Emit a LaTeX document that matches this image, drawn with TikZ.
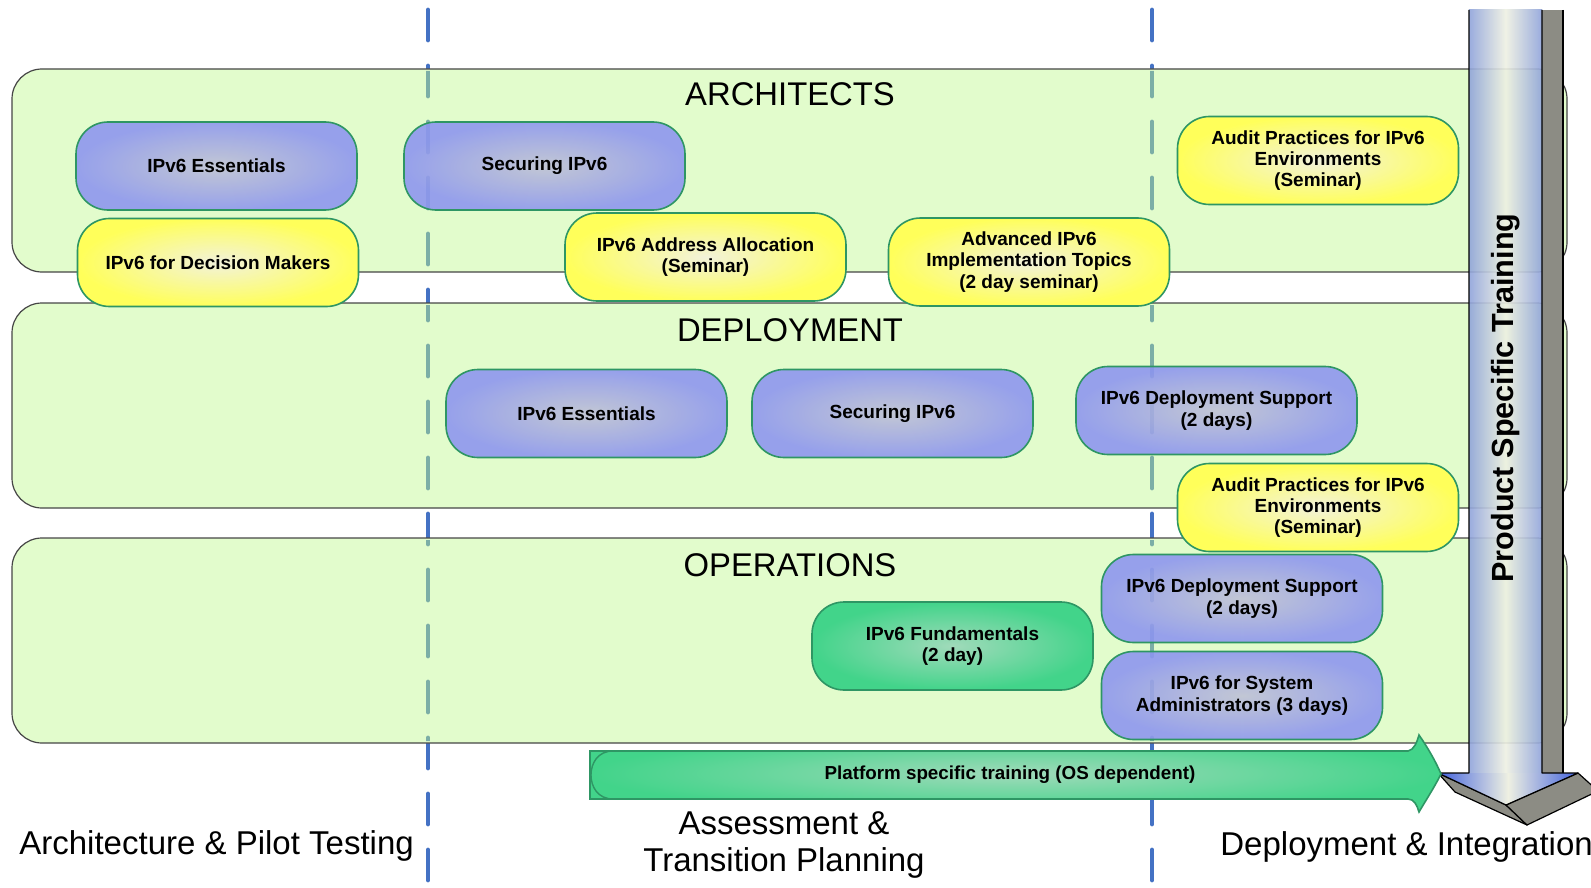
\documentclass[tikz,border=0pt]{standalone}
\usepackage{fontspec}
\setmainfont{Liberation Sans}
\definecolor{bandfill}{RGB}{226,252,204}
\definecolor{bandline}{RGB}{70,70,70}
\definecolor{dashblue}{RGB}{68,114,196}
\definecolor{dashteal}{RGB}{124,174,166}
\definecolor{nodeline}{RGB}{46,150,100}
\definecolor{blueOut}{RGB}{140,148,240}
\definecolor{blueIn}{RGB}{190,192,214}
\definecolor{yelOut}{RGB}{255,255,90}
\definecolor{yelIn}{RGB}{242,242,218}
\definecolor{grnOut}{RGB}{66,212,138}
\definecolor{grnIn}{RGB}{160,218,186}
\definecolor{shaftblue}{RGB}{143,163,218}
\definecolor{shaftcream}{RGB}{238,240,226}
\definecolor{headblue}{RGB}{66,98,222}
\definecolor{arrgray}{RGB}{140,140,132}
\tikzset{
  band/.style={fill=bandfill, draw=bandline, line width=0.6pt, rounded corners=15pt},
  lanedash/.style={line width=2.4pt, line cap=round, dash pattern=on 15pt off 13pt},
  course/.style={draw=nodeline, line width=0.8pt, rounded corners=16pt,
    minimum width=140.5pt, minimum height=44pt, inner sep=0pt, align=center,
    font=\fontsize{9.5}{10.7}\selectfont\bfseries},
  bluec/.style={course, inner color=blueIn, outer color=blueOut, fill opacity=0.88, text opacity=1},
  yelc/.style={course, inner color=yelIn, outer color=yelOut},
  grnc/.style={course, inner color=grnIn, outer color=grnOut},
  lanetitle/.style={font=\fontsize{16.4}{18}\selectfont},
  phase/.style={font=\fontsize{16.5}{18.5}\selectfont, align=center, inner sep=0pt},
}
\begin{document}
\begin{tikzpicture}[x=0.5pt, y=-0.5pt]
\useasboundingbox (0,0) rectangle (1591,888);
% phase separators
\coordinate (d1t) at (428,10); \coordinate (d1b) at (428,892);
\coordinate (d2t) at (1152,10); \coordinate (d2b) at (1152,892);
\draw[lanedash, dashblue] (d1t) -- (d1b);
\draw[lanedash, dashblue] (d2t) -- (d2b);
% lanes
\path[band] (12,69) rectangle (1567,272);
\path[band] (12,303) rectangle (1567,508);
\path[band] (12,538) rectangle (1567,743);
\begin{scope}
  \clip (14,71) rectangle (1565,270) (14,305) rectangle (1565,506) (14,540) rectangle (1565,741);
  \draw[lanedash, dashteal] (d1t) -- (d1b);
  \draw[lanedash, dashteal] (d2t) -- (d2b);
\end{scope}
\node[lanetitle] (arch) at (790,94) {ARCHITECTS};
\node[lanetitle] (depl) at (790,330) {DEPLOYMENT};
\node[lanetitle] (oper) at (790,565) {OPERATIONS};
% courses
\node[bluec] (a1) at (216.5,166) {IPv6 Essentials};
\node[yelc] (a2) at (218,262.5) {IPv6 for Decision Makers};
\node[bluec] (a3) at (544.5,166) {Securing IPv6};
\node[yelc] (a4) at (705.5,257) {IPv6 Address Allocation\\(Seminar)};
\node[yelc] (a5) at (1029,262) {Advanced IPv6\\Implementation Topics\\(2 day seminar)};
\node[yelc] (a6) at (1318,160.5) {Audit Practices for IPv6\\Environments\\(Seminar)};
\node[bluec] (b1) at (586.5,413.5) {IPv6 Essentials};
\node[bluec] (b2) at (892.5,413.5) {Securing IPv6};
\node[bluec] (b3) at (1216.5,410.5) {IPv6 Deployment Support\\(2 days)};
\node[yelc] (b4) at (1318,507.5) {Audit Practices for IPv6\\Environments\\(Seminar)};
\node[bluec] (c1) at (1242,598.5) {IPv6 Deployment Support\\(2 days)};
\node[grnc] (c2) at (952.5,646) {IPv6 Fundamentals\\(2 day)};
\node[bluec] (c3) at (1242,695.5) {IPv6 for System\\Administrators (3 days)};
% product specific training arrow
\fill[arrgray] (1542,10) rectangle (1563,773);
\draw[line width=0.6pt] (1563,10) -- (1563,773);
\fill[arrgray, draw=black, line width=0.6pt, line join=round] (1438,773) -- (1455,792) -- (1527,825) -- (1506,805) -- cycle;
\fill[arrgray, draw=black, line width=0.6pt, line join=round] (1506,805) -- (1527,825) -- (1598,791) -- (1578,773) -- cycle;
\shade[left color=shaftblue, right color=shaftblue, middle color=shaftcream, fill opacity=0.9] (1469,10) rectangle (1542,774);
\shade[left color=headblue, right color=headblue, middle color=shaftcream] (1438,773) -- (1578,773) -- (1506,805) -- cycle;
\draw[line width=0.6pt, line join=round] (1469,10) -- (1469,773) -- (1438,773) -- (1506,805) -- (1578,773) -- (1542,773) -- (1542,10);
\node[rotate=90, font=\fontsize{15.3}{17}\selectfont\bfseries] (pst) at (1506,398) {Product Specific Training};
% platform specific training arrow
\path[draw=nodeline, line width=0.8pt, inner color=grnIn, outer color=grnOut]
  (590,751) -- (1408,751) .. controls (1414,750) and (1417,742) .. (1419,735)
  .. controls (1428,748) and (1436,762) .. (1441,774)
  .. controls (1434,788) and (1426,800) .. (1419,812)
  .. controls (1417,805) and (1414,799) .. (1408,799) -- (590,799) -- cycle;
\draw[nodeline, line width=0.7pt] (613,751) .. controls (598,751) and (591,763) .. (591,775) .. controls (591,787) and (598,799) .. (613,799);
\node[font=\fontsize{9.4}{11}\selectfont\bfseries] (plat) at (1010,775) {Platform specific training (OS dependent)};
% phases
\node[phase, anchor=west] (ph1) at (19,846) {Architecture \& Pilot Testing};
\node[phase] (ph2) at (784,845) {Assessment \&\\Transition Planning};
\node[phase, anchor=west] (ph3) at (1220,847) {Deployment \& Integration};
\end{tikzpicture}
\end{document}
